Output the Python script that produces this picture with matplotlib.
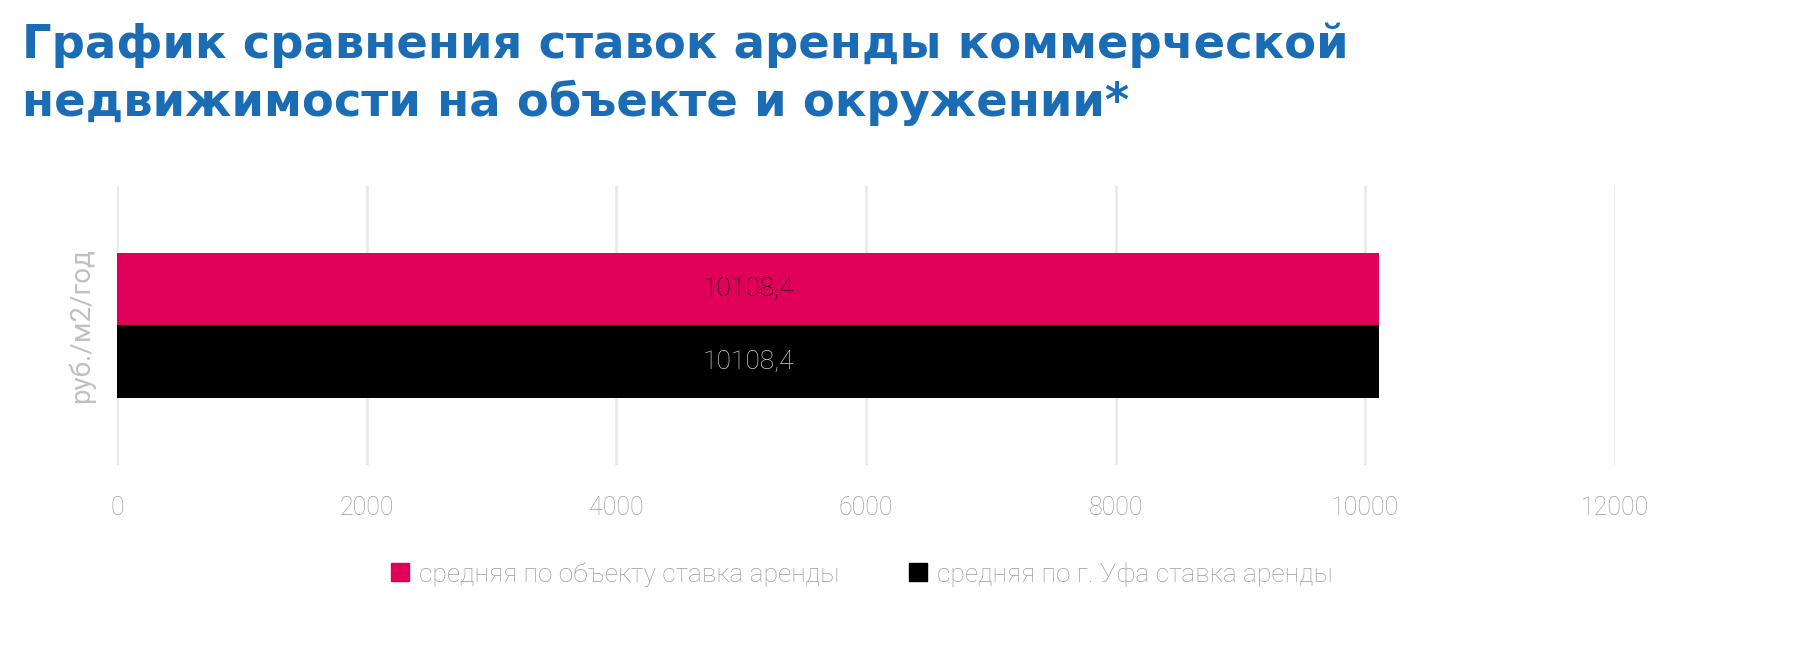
import matplotlib
matplotlib.use("Agg")
import matplotlib.pyplot as plt
import numpy as np
from matplotlib.lines import Line2D

plt.rcParams['font.family'] = ['Roboto', 'DejaVu Sans']

# данные
series_names = ['средняя по объекту ставка аренды', 'средняя по г. Уфа ставка аренды']
series_values = [10108.4, 10108.4]
series_labels = ['10108,4', '10108,4']
series_colors = ['#e0005a', '#000000']
label_colors = ['#1e050c', '#d0d0d0']
x_ticks = [0, 2000, 4000, 6000, 8000, 10000, 12000]
title_lines = ['График сравнения ставок аренды коммерческой',
               'недвижимости на объекте и окружении*']
y_title = 'руб./м2/год'

fig = plt.figure(figsize=(18.01, 6.70), dpi=100)
ax = fig.add_axes([0.065, 0.306, 0.8317, 0.4164])

bar_h = 0.26
offsets = [bar_h / 2, -bar_h / 2]
for val, off, col, lab, lcol in zip(series_values, offsets, series_colors, series_labels, label_colors):
    ax.barh(off, val, height=bar_h, color=col, edgecolor='none', zorder=2)
    ax.text(val / 2, off, lab, ha='center', va='center', fontsize=19,
            color=lcol, fontweight='light', zorder=3)

ax.set_ylim(-0.5, 0.5)
ax.set_xlim(0, 12000)
ax.set_xticks(x_ticks)
ax.set_xticklabels([str(t) for t in x_ticks])
ax.set_yticks([])
ax.grid(axis='x', color='#e8e8e8', linewidth=1.8, zorder=0)
for s in ax.spines.values():
    s.set_visible(False)
ax.tick_params(axis='x', length=0, pad=22, labelsize=18, labelcolor='#9c9c9c')
for t in ax.get_xticklabels():
    t.set_fontweight('light')
ax.set_ylabel(y_title, fontsize=20, color='#c0c0c0', labelpad=16)

handles = [Line2D([0], [0], marker='s', color='w', markerfacecolor=c, markeredgecolor=c,
                  markersize=13, label=n) for c, n in zip(series_colors, series_names)]
leg = fig.legend(handles=handles, loc='center', bbox_to_anchor=(0.478, 0.143), ncol=2,
                 frameon=False, fontsize=19, handletextpad=0.3, columnspacing=2.6,
                 handlelength=0.8)
for t in leg.get_texts():
    t.set_color('#9c9c9c')
    t.set_fontweight('light')

for i, line in enumerate(title_lines):
    fig.text(0.012, 1 - (58 + 58 * i) / 670, line, ha='left', va='baseline',
             fontsize=33.5, fontweight='bold', color='#1a6db4', family='DejaVu Sans')

fig.savefig('out.png', dpi=100)
